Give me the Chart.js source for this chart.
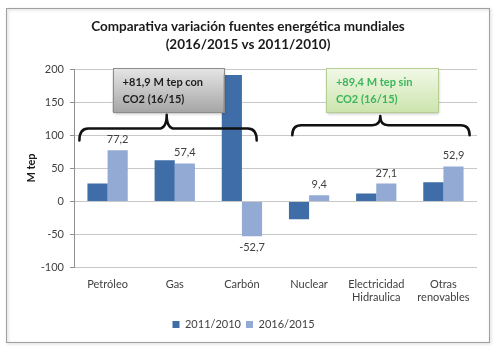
<!DOCTYPE html>
<html><head><meta charset="utf-8">
<script src="https://cdn.jsdelivr.net/npm/chart.js@4"></script>
<style>html,body{margin:0;padding:0;background:#fff}#wrap{width:498px;height:351px;position:relative}</style>
</head><body><div id="wrap"><canvas id="c" width="498" height="351"></canvas></div>
<script>
const categories = ['Petróleo','Gas','Carbón','Nuclear',['Electricidad','Hidraulica'],['Otras','renovables']];
const series2011 = [27, 62, 191, -27, 12, 29];
const series2016 = [77.2, 57.4, -52.7, 9.4, 27.1, 52.9];
const seriesNames = ['2011/2010','2016/2015'];
const yTicks = {min:-100, max:200, step:50};
const titleLines = ['Comparativa variación fuentes energética mundiales','(2016/2015 vs 2011/2010)'];
const boxTexts = [['+81,9 M tep con','CO2 (16/15)'],['+89,4 M tep sin','CO2 (16/15)']];

const FONT = 'Lato, "Open Sans", sans-serif';

function fmt(v){return String(v).replace('.',',');}

const deco = {
  id:'deco',
  beforeDraw(chart){
    const ctx = chart.ctx;
    ctx.save();
    ctx.fillStyle='#fff'; ctx.fillRect(0,0,chart.width,chart.height);
    ctx.shadowColor='rgba(0,0,0,0.25)'; ctx.shadowBlur=3; ctx.shadowOffsetX=1; ctx.shadowOffsetY=1;
    ctx.strokeStyle='#a0a0a0'; ctx.lineWidth=1;
    ctx.strokeRect(6.5,8.5,483,334);
    ctx.restore();
    ctx.save();
    ctx.fillStyle='#1a1a1a'; ctx.font='bold 13.5px '+FONT; ctx.textAlign='center'; ctx.textBaseline='middle';
    ctx.fillText(titleLines[0],248,27);
    ctx.fillText(titleLines[1],248,45);
    ctx.translate(31,168); ctx.rotate(-Math.PI/2);
    ctx.font='bold 11px '+FONT; ctx.fillText('M tep',0,0);
    ctx.restore();
  },
  afterDatasetsDraw(chart){
    const ctx = chart.ctx, xs = chart.scales.x, ys = chart.scales.y;
    const x0 = xs.getPixelForValue(0), cw = xs.getPixelForValue(1)-x0;
    const xAt = v => x0 + v*cw;
    // data labels
    ctx.save();
    ctx.font='11px '+FONT; ctx.fillStyle='#404040'; ctx.textAlign='center';
    const meta = chart.getDatasetMeta(1);
    meta.data.forEach((b,i)=>{
      const v = series2016[i];
      if (v>=0){ctx.textBaseline='bottom'; ctx.fillText(fmt(v), b.x, b.y-5);}
      else {ctx.textBaseline='top'; ctx.fillText(fmt(v), b.x, b.y+6);}
    });
    ctx.restore();
    // braces
    const braces = [
      {x1:-0.42, x2:2.22, xm:0.88, yEnd:92, yMid:110, yTip:131},
      {x1:2.75, x2:5.39, xm:4.06, yEnd:100, yMid:115, yTip:129}
    ];
    ctx.save();
    ctx.strokeStyle='#111'; ctx.lineWidth=2.5; ctx.lineJoin='round'; ctx.lineCap='round';
    braces.forEach(br=>{
      const a=xAt(br.x1), b=xAt(br.x2), m=xAt(br.xm);
      const ye=ys.getPixelForValue(br.yEnd), yi=ys.getPixelForValue(br.yMid), yt=ys.getPixelForValue(br.yTip);
      const r=9, rt=8;
      ctx.beginPath();
      ctx.moveTo(a,ye);
      ctx.quadraticCurveTo(a,yi,a+r,yi);
      ctx.lineTo(m-rt,yi);
      ctx.quadraticCurveTo(m,yi,m,yt);
      ctx.quadraticCurveTo(m,yi,m+rt,yi);
      ctx.lineTo(b-r,yi);
      ctx.quadraticCurveTo(b,yi,b,ye);
      ctx.stroke();
    });
    ctx.restore();
    // boxes
    const boxes = [
      {x1:0.075, x2:1.73, yTop:201.5, yBot:135, c1:'#e6e6e6', c2:'#a6a6a6', border:'#8c8c8c', text:'#1e1e1e', lines:boxTexts[0]},
      {x1:3.25, x2:4.92, yTop:201.5, yBot:135, c1:'#f2f9e8', c2:'#cde4ae', border:'#b5cf92', text:'#3bb55a', lines:boxTexts[1]}
    ];
    boxes.forEach(bx=>{
      const L=xAt(bx.x1), R=xAt(bx.x2), T=ys.getPixelForValue(bx.yTop), B=ys.getPixelForValue(bx.yBot);
      ctx.save();
      ctx.shadowColor='rgba(0,0,0,0.35)'; ctx.shadowBlur=3; ctx.shadowOffsetX=1; ctx.shadowOffsetY=2;
      const g=ctx.createLinearGradient(0,T,0,B); g.addColorStop(0,bx.c1); g.addColorStop(1,bx.c2);
      ctx.fillStyle=g; ctx.fillRect(L,T,R-L,B-T);
      ctx.restore();
      ctx.save();
      ctx.strokeStyle=bx.border; ctx.lineWidth=1; ctx.strokeRect(Math.round(L)+0.5,Math.round(T)+0.5,Math.round(R-L),Math.round(B-T));
      ctx.fillStyle=bx.text; ctx.font='bold 11px '+FONT; ctx.textAlign='left'; ctx.textBaseline='middle';
      ctx.fillText(bx.lines[0], L+10, T+14);
      ctx.fillText(bx.lines[1], L+10, T+31);
      ctx.restore();
    });
  }
};

new Chart(document.getElementById('c'),{
  type:'bar',
  data:{labels:categories, datasets:[
    {label:seriesNames[0], data:series2011, backgroundColor:'#3e6da8', categoryPercentage:0.6, barPercentage:1},
    {label:seriesNames[1], data:series2016, backgroundColor:'#93aad5', categoryPercentage:0.6, barPercentage:1}
  ]},
  options:{
    responsive:false, animation:false, devicePixelRatio:1,
    layout:{padding:{left:10, right:21, top:69, bottom:11}},
    plugins:{
      title:{display:false}, tooltip:{enabled:false},
      legend:{position:'bottom', labels:{boxWidth:7, boxHeight:7, padding:5, color:'#404040', font:{family:FONT, size:11}}}
    },
    scales:{
      x:{grid:{display:false, drawTicks:false}, border:{display:false},
         ticks:{color:'#404040', font:{family:FONT, size:11}, padding:10, maxRotation:0, autoSkip:false}},
      y:{min:yTicks.min, max:yTicks.max, afterFit(s){s.width=64;},
         ticks:{stepSize:yTicks.step, color:'#404040', font:{family:FONT, size:11}, padding:6},
         grid:{color:'#c8c8c8', tickLength:4, tickColor:'#909090'},
         border:{display:true, color:'#909090'}}
    }
  },
  plugins:[deco]
});
</script></body></html>
